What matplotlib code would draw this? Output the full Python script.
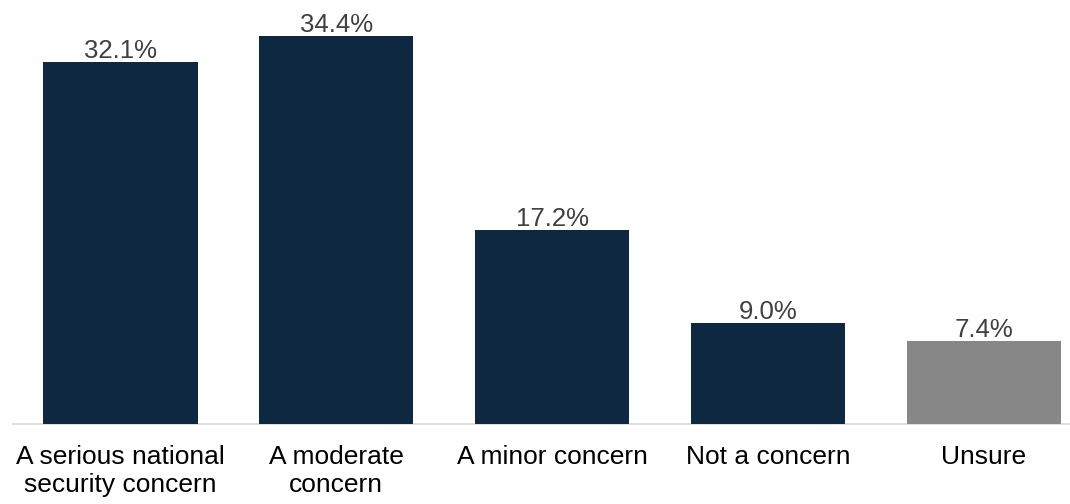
import matplotlib.pyplot as plt
import numpy as np

plt.rcParams['font.family'] = ['Liberation Sans', 'DejaVu Sans']

categories = ['A serious national\nsecurity concern', 'A moderate\nconcern',
              'A minor concern', 'Not a concern', 'Unsure']
values = [32.1, 34.4, 17.2, 9.0, 7.4]
colors = ['#0E2841', '#0E2841', '#0E2841', '#0E2841', '#878787']

fig = plt.figure(figsize=(10.7, 5.04), dpi=100)
ax = fig.add_axes([0.0118, 0.1587, 0.9882, 0.8413])

x = np.arange(len(values))
bars = ax.bar(x, values, width=0.715, color=colors, zorder=3)

for xi, v in zip(x, values):
    ax.text(xi, v - 0.1, f'{v:.1f}%', ha='center', va='bottom',
            fontsize=18.5, color='#404040')

ax.set_xlim(-0.5, 4.40)
ax.set_ylim(0, 37.6)
ax.set_yticks([])
ax.set_xticks(x)
ax.set_xticklabels(categories, fontsize=19, color='#000000', linespacing=1.22)
ax.tick_params(axis='x', length=0, pad=15)

for s in ['top', 'right', 'left']:
    ax.spines[s].set_visible(False)
ax.spines['bottom'].set_color('#D9D9D9')
ax.spines['bottom'].set_linewidth(1.2)

fig.savefig('out.png', dpi=100)
